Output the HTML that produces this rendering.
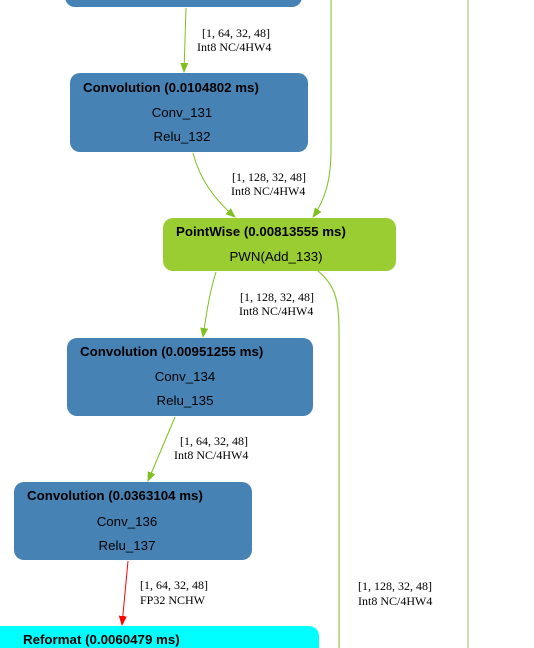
<!DOCTYPE html>
<html><head><meta charset="utf-8"><style>
html,body{margin:0;padding:0;background:#fff;width:534px;height:648px;overflow:hidden}
svg{display:block}
.t{font-family:"Liberation Sans",sans-serif;font-size:13.3px;font-weight:bold;fill:#000}
.s{font-family:"Liberation Sans",sans-serif;font-size:13.3px;fill:#000}
.l{font-family:"Liberation Serif",serif;font-size:12px;fill:#000}
</style></head><body>
<svg width="534" height="648" viewBox="0 0 534 648" style="overflow:hidden">
<defs>
<marker id="g" markerWidth="10" markerHeight="10" refX="9" refY="5" orient="auto" markerUnits="userSpaceOnUse"><path d="M0,1 L10,5 L0,9 z" fill="#7fbf1f"/></marker>
<marker id="r" markerWidth="10" markerHeight="10" refX="9" refY="5" orient="auto" markerUnits="userSpaceOnUse"><path d="M0,1 L10,5 L0,9 z" fill="#ff0000"/></marker>
</defs>
<line x1="468" y1="0" x2="468" y2="648" stroke="#b8dc8a" stroke-width="1.5"/>
<path d="M65,0 H302 V-3 A10,10 0 0 1 292,7 H75 A10,10 0 0 1 65,-3 Z" fill="#4682b4"/>
<rect x="70" y="73" width="238" height="79" rx="10" fill="#4682b4"/>
<text class="t" x="83" y="92">Convolution (0.0104802 ms)</text>
<text class="s" x="182" y="117" text-anchor="middle">Conv_131</text>
<text class="s" x="182" y="141" text-anchor="middle">Relu_132</text>
<rect x="163" y="218" width="233" height="53" rx="10" fill="#9acd32"/>
<text class="t" x="176" y="236">PointWise (0.00813555 ms)</text>
<text class="s" x="276" y="261" text-anchor="middle">PWN(Add_133)</text>
<rect x="67" y="338" width="246" height="78" rx="10" fill="#4682b4"/>
<text class="t" x="80" y="356">Convolution (0.00951255 ms)</text>
<text class="s" x="185" y="381" text-anchor="middle">Conv_134</text>
<text class="s" x="185" y="405" text-anchor="middle">Relu_135</text>
<rect x="14" y="482" width="238" height="78" rx="10" fill="#4682b4"/>
<text class="t" x="27" y="500">Convolution (0.0363104 ms)</text>
<text class="s" x="127" y="526" text-anchor="middle">Conv_136</text>
<text class="s" x="127" y="550" text-anchor="middle">Relu_137</text>
<path d="M0,626 H309 A10,10 0 0 1 319,636 V648 H0 Z" fill="#00ffff"/>
<text class="t" x="23" y="644">Reformat (0.0060479 ms)</text>
<path d="M186,8 L184,72" stroke="#7fbf1f" fill="none" marker-end="url(#g)"/>
<text class="l" x="202" y="37">[1, 64, 32, 48]</text>
<text class="l" x="197" y="51">Int8 NC/4HW4</text>
<path d="M193,153 C200,180 215,200 235,217" stroke="#7fbf1f" fill="none" marker-end="url(#g)"/>
<path d="M331,0 L331,150 C331,180 325,200 313,217" stroke="#7fbf1f" fill="none" marker-end="url(#g)"/>
<text class="l" x="232" y="181">[1, 128, 32, 48]</text>
<text class="l" x="231" y="195">Int8 NC/4HW4</text>
<path d="M216,272 C210,290 206,315 203,337" stroke="#7fbf1f" fill="none" marker-end="url(#g)"/>
<text class="l" x="240" y="301">[1, 128, 32, 48]</text>
<text class="l" x="239" y="315">Int8 NC/4HW4</text>
<path d="M318,271 C335,285 339,300 339,330 L339,648" stroke="#8fc93a" stroke-width="1.2" fill="none"/>
<path d="M175,417 L148,481" stroke="#7fbf1f" fill="none" marker-end="url(#g)"/>
<text class="l" x="180" y="445">[1, 64, 32, 48]</text>
<text class="l" x="174" y="459">Int8 NC/4HW4</text>
<path d="M128,561 L122,625" stroke="#ff0000" fill="none" marker-end="url(#r)"/>
<text class="l" x="140" y="589">[1, 64, 32, 48]</text>
<text class="l" x="140" y="604">FP32 NCHW</text>
<text class="l" x="358" y="590">[1, 128, 32, 48]</text>
<text class="l" x="358" y="605">Int8 NC/4HW4</text>
</svg>
</body></html>
